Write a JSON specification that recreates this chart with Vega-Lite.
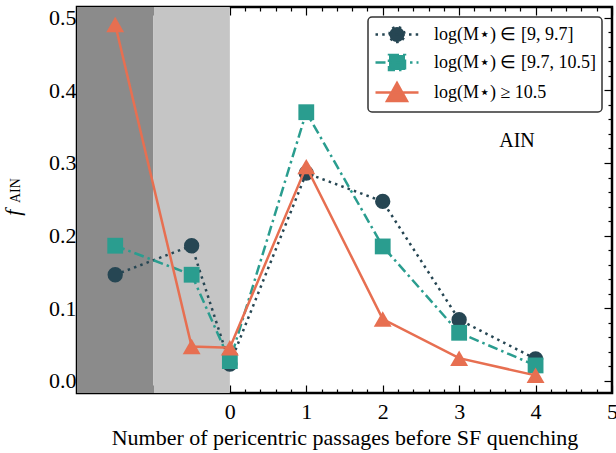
{
  "$schema": "https://vega.github.io/schema/vega-lite/v6.json",
  "width": 535,
  "height": 386,
  "autosize": {"type": "none"},
  "padding": {"left": 77, "top": 7, "right": 4, "bottom": 60},
  "background": "white",
  "config": {
    "view": {"stroke": "black", "strokeWidth": 2.5},
    "font": "Liberation Serif",
    "legend": {
      "orient": "top-right", "offset": 10,
      "labelFont": "Liberation Serif", "labelFontSize": 18, "labelColor": "black", "labelLimit": 400,
      "symbolSize": 400, "symbolStrokeWidth": 2.5, "symbolOpacity": 1,
      "labelOffset": 37, "rowPadding": 3, "padding": 6,
      "strokeColor": "#333333", "fillColor": "white", "cornerRadius": 4, "strokeWidth": 1.5
    }
  },
  "datasets": {
    "pts": [
      {"g": "A", "x": -1.5, "y": 0.146}, {"g": "A", "x": -0.5, "y": 0.186}, {"g": "A", "x": 0, "y": 0.023},
      {"g": "A", "x": 1, "y": 0.286}, {"g": "A", "x": 2, "y": 0.247}, {"g": "A", "x": 3, "y": 0.084}, {"g": "A", "x": 4, "y": 0.030},
      {"g": "B", "x": -1.5, "y": 0.186}, {"g": "B", "x": -0.5, "y": 0.146}, {"g": "B", "x": 0, "y": 0.027},
      {"g": "B", "x": 1, "y": 0.370}, {"g": "B", "x": 2, "y": 0.185}, {"g": "B", "x": 3, "y": 0.066}, {"g": "B", "x": 4, "y": 0.021},
      {"g": "C", "x": -1.5, "y": 0.491}, {"g": "C", "x": -0.5, "y": 0.047}, {"g": "C", "x": 0, "y": 0.0455},
      {"g": "C", "x": 1, "y": 0.295}, {"g": "C", "x": 2, "y": 0.085}, {"g": "C", "x": 3, "y": 0.031}, {"g": "C", "x": 4, "y": 0.0073}
    ],
    "zones": [
      {"x0": -2, "x1": -1, "zone": "dark"},
      {"x0": -1, "x1": 0, "zone": "light"}
    ]
  },
  "layer": [
    {
      "data": {"name": "zones"},
      "mark": {"type": "rect"},
      "encoding": {
        "x": {
          "field": "x0", "type": "quantitative",
          "scale": {"domain": [-2, 5], "nice": false, "zero": false},
          "axis": {
            "orient": "bottom",
            "values": [-2,-1.8,-1.6,-1.4,-1.2,-1,-0.8,-0.6,-0.4,-0.2,0,0.2,0.4,0.6,0.8,1,1.2,1.4,1.6,1.8,2,2.2,2.4,2.6,2.8,3,3.2,3.4,3.6,3.8,4,4.2,4.4,4.6,4.8,5],
            "labelExpr": "datum.value > -0.001 && abs(datum.value - round(datum.value)) < 0.001 ? format(round(datum.value), 'd') : ''",
            "tickSize": {"condition": {"test": "abs(datum.value - round(datum.value)) < 0.001", "value": -8}, "value": -4},
            "tickColor": "black", "tickWidth": 1.2,
            "domain": false, "grid": false,
            "labelFont": "Liberation Serif", "labelFontSize": 22, "labelColor": "black", "labelPadding": 16,
            "labelFlush": false, "labelOverlap": false,
            "title": "Number of pericentric passages before SF quenching",
            "titleFont": "Liberation Serif", "titleFontSize": 22, "titleFontWeight": "normal", "titleColor": "black", "titlePadding": 1
          }
        },
        "x2": {"field": "x1"},
        "fill": {"field": "zone", "type": "nominal", "scale": {"domain": ["dark", "light"], "range": ["#8b8b8b", "#c5c5c5"]}, "legend": null}
      }
    },
    {
      "data": {"name": "pts"},
      "transform": [{"filter": "datum.g === 'A'"}],
      "mark": {"type": "line", "color": "#264653", "strokeWidth": 2.5, "strokeCap": "butt", "strokeDash": [2.5, 4.2]},
      "encoding": {
        "x": {
          "field": "x", "type": "quantitative",
          "scale": {"domain": [-2, 5], "nice": false, "zero": false},
          "axis": {
            "orient": "top",
            "values": [-2,-1.8,-1.6,-1.4,-1.2,-1,-0.8,-0.6,-0.4,-0.2,0,0.2,0.4,0.6,0.8,1,1.2,1.4,1.6,1.8,2,2.2,2.4,2.6,2.8,3,3.2,3.4,3.6,3.8,4,4.2,4.4,4.6,4.8,5],
            "labels": false, "title": null, "domain": false, "grid": false,
            "tickSize": {"condition": {"test": "abs(datum.value - round(datum.value)) < 0.001", "value": -8}, "value": -4},
            "tickColor": "black", "tickWidth": 1.2
          }
        },
        "y": {
          "field": "y", "type": "quantitative",
          "scale": {"domain": [-0.017, 0.515], "nice": false, "zero": false},
          "axis": {
            "orient": "right",
            "values": [0,0.02,0.04,0.06,0.08,0.1,0.12,0.14,0.16,0.18,0.2,0.22,0.24,0.26,0.28,0.3,0.32,0.34,0.36,0.38,0.4,0.42,0.44,0.46,0.48,0.5],
            "labels": false, "title": null, "domain": false, "grid": false,
            "tickSize": {"condition": {"test": "abs(datum.value*10 - round(datum.value*10)) < 0.001", "value": -8}, "value": -4},
            "tickColor": "black", "tickWidth": 1.2
          }
        }
      }
    },
    {
      "data": {"name": "pts"},
      "transform": [{"filter": "datum.g === 'A'"}],
      "mark": {"type": "point", "filled": true, "opacity": 1, "shape": "circle", "size": 235, "color": "#264653"},
      "encoding": {
        "x": {"field": "x", "type": "quantitative", "axis": null},
        "y": {
          "field": "y", "type": "quantitative",
          "scale": {"domain": [-0.017, 0.515], "nice": false, "zero": false},
          "axis": {
            "orient": "left",
            "values": [0,0.02,0.04,0.06,0.08,0.1,0.12,0.14,0.16,0.18,0.2,0.22,0.24,0.26,0.28,0.3,0.32,0.34,0.36,0.38,0.4,0.42,0.44,0.46,0.48,0.5],
            "labelExpr": "abs(datum.value*10 - round(datum.value*10)) < 0.001 ? format(datum.value, '.1f') : ''",
            "tickSize": {"condition": {"test": "abs(datum.value*10 - round(datum.value*10)) < 0.001", "value": -8}, "value": -4},
            "tickColor": "black", "tickWidth": 1.2,
            "domain": false, "grid": false, "title": null,
            "labelFont": "Liberation Serif", "labelFontSize": 22, "labelColor": "black", "labelPadding": 9,
            "labelFlush": false, "labelOverlap": false
          }
        }
      }
    },
    {
      "data": {"name": "pts"},
      "transform": [{"filter": "datum.g === 'B'"}],
      "mark": {"type": "line", "color": "#2a9d8f", "strokeWidth": 2.5, "strokeCap": "butt", "strokeDash": [10, 4, 2.5, 4]},
      "encoding": {
        "x": {"field": "x", "type": "quantitative", "axis": null},
        "y": {"field": "y", "type": "quantitative", "axis": null}
      }
    },
    {
      "data": {"name": "pts"},
      "transform": [{"filter": "datum.g === 'B'"}],
      "mark": {"type": "point", "filled": true, "opacity": 1, "shape": "square", "size": 250, "color": "#2a9d8f"},
      "encoding": {
        "x": {"field": "x", "type": "quantitative", "axis": null},
        "y": {"field": "y", "type": "quantitative", "axis": null}
      }
    },
    {
      "data": {"name": "pts"},
      "transform": [{"filter": "datum.g === 'C'"}],
      "mark": {"type": "line", "color": "#e76f51", "strokeWidth": 2.5, "strokeCap": "butt"},
      "encoding": {
        "x": {"field": "x", "type": "quantitative", "axis": null},
        "y": {"field": "y", "type": "quantitative", "axis": null}
      }
    },
    {
      "data": {"name": "pts"},
      "transform": [{"filter": "datum.g === 'C'"}],
      "mark": {"type": "point", "filled": true, "opacity": 1, "shape": "triangle-up", "size": 320, "color": "#e76f51"},
      "encoding": {
        "x": {"field": "x", "type": "quantitative", "axis": null},
        "y": {"field": "y", "type": "quantitative", "axis": null}
      }
    },
    {
      "data": {"name": "pts"},
      "mark": {"type": "point", "filled": true, "opacity": 0, "strokeWidth": 2.5},
      "encoding": {
        "x": {"field": "x", "type": "quantitative", "axis": null},
        "y": {"field": "y", "type": "quantitative", "axis": null},
        "color": {
          "field": "g", "type": "nominal", "title": null,
          "scale": {"domain": ["A", "B", "C"], "range": ["#264653", "#2a9d8f", "#e76f51"]},
          "legend": {
            "title": null,
            "labelExpr": "datum.value === 'A' ? 'log(M⋆) ∈ [9, 9.7]' : datum.value === 'B' ? 'log(M⋆) ∈ [9.7, 10.5]' : 'log(M⋆) ≥ 10.5'"
          }
        },
        "stroke": {"field": "g", "type": "nominal", "title": null, "scale": {"domain": ["A", "B", "C"], "range": ["#264653", "#2a9d8f", "#e76f51"]}},
        "shape": {
          "field": "g", "type": "nominal", "title": null,
          "scale": {"domain": ["A", "B", "C"], "range": [
            "M-1,0L3.3,0M0.4,0A0.75,0.75,0,1,1,1.9,0A0.75,0.75,0,1,1,0.4,0Z",
            "M-1,0L3.3,0M0.35,-0.75L1.95,-0.75L1.95,0.75L0.35,0.75Z",
            "M-1,0L3.3,0M1.15,-0.95L2.15,0.85L0.15,0.85Z"
          ]}
        },
        "strokeDash": {"field": "g", "type": "nominal", "title": null, "scale": {"domain": ["A", "B", "C"], "range": [[2.5, 4.2], [10, 4, 2.5, 4], [1, 0]]}}
      }
    },
    {
      "data": {"values": [{"t": "AIN"}]},
      "mark": {"type": "text", "font": "Liberation Serif", "fontSize": 20, "align": "center", "baseline": "middle", "color": "black"},
      "encoding": {
        "x": {"datum": 3.757, "type": "quantitative", "axis": null},
        "y": {"datum": 0.33, "type": "quantitative", "axis": null},
        "text": {"field": "t"}
      }
    },
    {
      "data": {"values": [{"t": "f"}]},
      "mark": {"type": "text", "font": "Liberation Serif", "fontSize": 22, "fontStyle": "italic", "align": "center", "baseline": "middle", "angle": 270, "color": "black"},
      "encoding": {
        "x": {"datum": -2.84, "type": "quantitative", "axis": null},
        "y": {"datum": 0.2316, "type": "quantitative", "axis": null},
        "text": {"field": "t"}
      }
    },
    {
      "data": {"values": [{"t": "AIN"}]},
      "mark": {"type": "text", "font": "Liberation Serif", "fontSize": 14, "align": "center", "baseline": "middle", "angle": 270, "color": "black"},
      "encoding": {
        "x": {"datum": -2.80, "type": "quantitative", "axis": null},
        "y": {"datum": 0.2619, "type": "quantitative", "axis": null},
        "text": {"field": "t"}
      }
    }
  ],
  "resolve": {"axis": {"x": "independent", "y": "independent"}}
}
